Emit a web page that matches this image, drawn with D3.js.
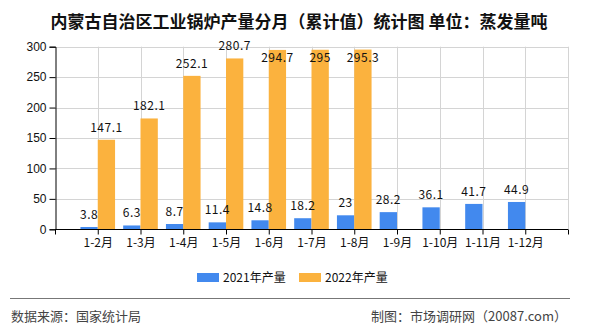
<!DOCTYPE html>
<html>
<head>
<meta charset="utf-8">
<script src="https://cdn.jsdelivr.net/npm/d3@7/dist/d3.min.js"></script>
<style>
  html, body { margin: 0; padding: 0; background: #fff; }
  svg text { font-family: "Noto Sans CJK SC", "Liberation Sans", sans-serif; }
</style>
</head>
<body>
<div id="chart"></div>
<script>
'use strict';

// data
var months = ['1-2月', '1-3月', '1-4月', '1-5月', '1-6月', '1-7月', '1-8月', '1-9月', '1-10月', '1-11月', '1-12月'];
var values2021 = [3.8, 6.3, 8.7, 11.4, 14.8, 18.2, 23, 28.2, 36.1, 41.7, 44.9];
var values2022 = [147.1, 182.1, 252.1, 280.7, 294.7, 295, 295.3];
var yTicks = [0, 50, 100, 150, 200, 250, 300];
var seriesNames = ['2021年产量', '2022年产量'];

var width = 590, height = 330;
var plot = { left: 55, right: 568, top: 46.7, bottom: 229.3 };
var colors = ['#4289ee', '#fbb23e'];

var svg = d3.select('#chart')
  .append('svg')
  .attr('width', width)
  .attr('height', height);

svg.append('text')
  .attr('x', 299)
  .attr('y', 28)
  .attr('text-anchor', 'middle')
  .attr('font-size', 17)
  .attr('font-weight', 'bold')
  .attr('fill', '#111')
  .text('内蒙古自治区工业锅炉产量分月（累计值）统计图 单位：蒸发量吨');

var x = d3.scalePoint()
  .domain(months)
  .range([plot.left, plot.right])
  .padding(1);

var y = d3.scaleLinear()
  .domain([0, 300])
  .range([plot.bottom, plot.top]);

var barW = x.step() * 0.405;

// horizontal grid
svg.append('g')
  .selectAll('line')
  .data(yTicks)
  .enter()
  .append('line')
  .attr('x1', plot.left)
  .attr('x2', plot.right)
  .attr('y1', function(d) { return Math.round(y(d)) + 0.5; })
  .attr('y2', function(d) { return Math.round(y(d)) + 0.5; })
  .attr('stroke', '#d4d4d4');

// vertical grid (category points + right edge)
var vx = months.map(function(m) { return x(m); }).concat([plot.right]);
svg.append('g')
  .selectAll('line')
  .data(vx)
  .enter()
  .append('line')
  .attr('x1', function(d) { return Math.round(d) + 0.5; })
  .attr('x2', function(d) { return Math.round(d) + 0.5; })
  .attr('y1', plot.top)
  .attr('y2', plot.bottom)
  .attr('stroke', '#d4d4d4');

// bars
var groups = [values2021, values2022];
groups.forEach(function(vals, s) {
  svg.append('g')
    .selectAll('rect')
    .data(vals)
    .enter()
    .append('rect')
    .attr('x', function(d, i) { return x(months[i]) - (s === 0 ? barW : 0); })
    .attr('y', function(d) { return y(d); })
    .attr('width', barW)
    .attr('height', function(d) { return plot.bottom - y(d); })
    .attr('fill', colors[s]);
});

// value labels
groups.forEach(function(vals, s) {
  svg.append('g')
    .selectAll('text')
    .data(vals)
    .enter()
    .append('text')
    .attr('x', function(d, i) { return x(months[i]) + (s === 0 ? -barW / 2 : barW / 2); })
    .attr('y', function(d) {
      var base = y(d) - 8;
      return base < 46 ? y(d) + 12 : base;   // flip inside when no room on top
    })
    .attr('text-anchor', 'middle')
    .attr('font-size', 12)
    .attr('letter-spacing', 0.5)
    .attr('fill', '#111')
    .text(function(d) { return d; });
});

// y axis
var yAxis = svg.append('g')
  .attr('transform', 'translate(' + (plot.left + 0.5) + ',0)')
  .call(d3.axisLeft(y).tickValues(yTicks).tickSize(6).tickPadding(3));
yAxis.select('.domain').attr('stroke', '#000');
yAxis.selectAll('.tick line').attr('stroke', '#000');
yAxis.selectAll('.tick text')
  .attr('font-size', 12)
  .attr('fill', '#111')
  .style('font-family', '"Liberation Sans", sans-serif');

// x axis
var xAxis = svg.append('g')
  .attr('transform', 'translate(0,' + (Math.round(plot.bottom) + 0.5) + ')')
  .call(d3.axisBottom(x).tickSize(5).tickPadding(4).tickSizeOuter(0));
xAxis.select('.domain')
  .attr('stroke', '#000')
  .attr('d', 'M' + plot.left + ',0H' + plot.right);
xAxis.selectAll('.tick line').attr('stroke', '#000');
xAxis.selectAll('.tick text')
  .attr('font-size', 12)
  .attr('fill', '#111');
[plot.left, plot.right].forEach(function(px) {
  xAxis.append('line')
    .attr('x1', px + 0.5).attr('x2', px + 0.5)
    .attr('y1', 0).attr('y2', 5)
    .attr('stroke', '#000');
});

// legend
var legend = svg.append('g');
var legendX = [197, 299];
seriesNames.forEach(function(name, i) {
  legend.append('rect')
    .attr('x', legendX[i])
    .attr('y', 273)
    .attr('width', 22)
    .attr('height', 9)
    .attr('fill', colors[i]);
  legend.append('text')
    .attr('x', legendX[i] + 26)
    .attr('y', 282)
    .attr('font-size', 12)
    .attr('fill', '#111')
    .text(name);
});

// footer
svg.append('line')
  .attr('x1', 10).attr('x2', 570)
  .attr('y1', 298.5).attr('y2', 298.5)
  .attr('stroke', '#777')
  .attr('stroke-width', 1);

svg.append('text')
  .attr('x', 11)
  .attr('y', 321)
  .attr('font-size', 13)
  .attr('fill', '#444')
  .text('数据来源：国家统计局');

svg.append('text')
  .attr('x', 567)
  .attr('y', 321)
  .attr('text-anchor', 'end')
  .attr('font-size', 13)
  .attr('fill', '#444')
  .text('制图：市场调研网（20087.com）');
</script>
</body>
</html>
